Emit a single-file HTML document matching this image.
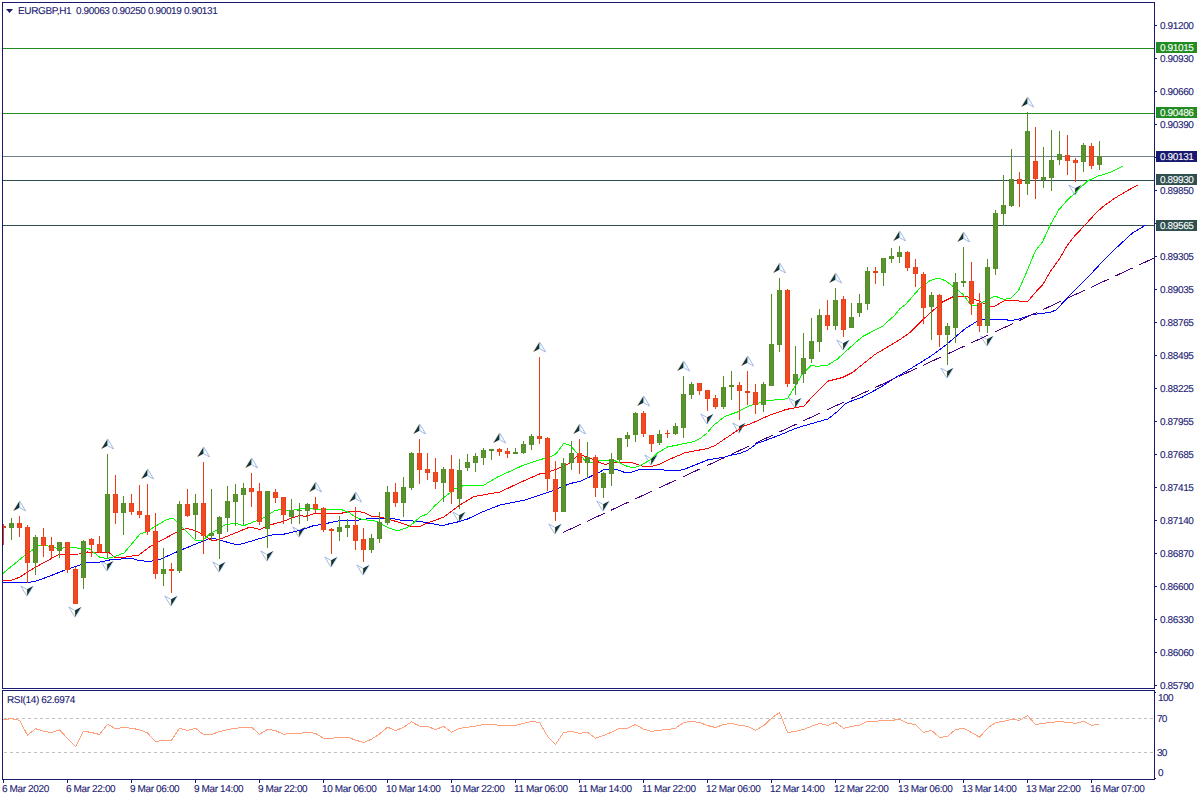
<!DOCTYPE html>
<html><head><meta charset="utf-8"><title>EURGBP,H1</title>
<style>html,body{margin:0;padding:0;background:#fff;width:1200px;height:800px;overflow:hidden}svg{display:block}text{white-space:pre}</style></head>
<body>
<svg width="1200" height="800" viewBox="0 0 1200 800" style="position:absolute;left:0;top:0">
<rect width="1200" height="800" fill="#fff"/>
<g shape-rendering="crispEdges">
<rect x="3" y="48" width="1151" height="1" fill="#228b22"/>
<rect x="3" y="113" width="1151" height="1" fill="#228b22"/>
<rect x="3" y="156" width="1151" height="1" fill="#708090"/>
<rect x="3" y="180" width="1151" height="1" fill="#2f4f4f"/>
<rect x="3" y="225" width="1151" height="1" fill="#2f4f4f"/>
</g>
<path d="M19.5,501 L13.3,511 L19.5,507.8 Z" fill="#16323a"/>
<path d="M19.2,500.8 L12.9,511" fill="none" stroke="#ffc766" stroke-width="0.5" opacity="0.8"/>
<path d="M19.8,502 L19.8,507.8" fill="none" stroke="#7fd0ff" stroke-width="0.8"/>
<path d="M19.7,501 L25.7,511 L19.9,507.8" fill="none" stroke="#94aedd" stroke-width="0.85"/>
<path d="M107.5,439 L101.3,449 L107.5,445.8 Z" fill="#16323a"/>
<path d="M107.2,438.8 L100.9,449" fill="none" stroke="#ffc766" stroke-width="0.5" opacity="0.8"/>
<path d="M107.8,440 L107.8,445.8" fill="none" stroke="#7fd0ff" stroke-width="0.8"/>
<path d="M107.7,439 L113.7,449 L107.9,445.8" fill="none" stroke="#94aedd" stroke-width="0.85"/>
<path d="M147.5,469 L141.3,479 L147.5,475.8 Z" fill="#16323a"/>
<path d="M147.2,468.8 L140.9,479" fill="none" stroke="#ffc766" stroke-width="0.5" opacity="0.8"/>
<path d="M147.8,470 L147.8,475.8" fill="none" stroke="#7fd0ff" stroke-width="0.8"/>
<path d="M147.7,469 L153.7,479 L147.9,475.8" fill="none" stroke="#94aedd" stroke-width="0.85"/>
<path d="M203.5,447 L197.3,457 L203.5,453.8 Z" fill="#16323a"/>
<path d="M203.2,446.8 L196.9,457" fill="none" stroke="#ffc766" stroke-width="0.5" opacity="0.8"/>
<path d="M203.8,448 L203.8,453.8" fill="none" stroke="#7fd0ff" stroke-width="0.8"/>
<path d="M203.7,447 L209.7,457 L203.9,453.8" fill="none" stroke="#94aedd" stroke-width="0.85"/>
<path d="M251.5,458 L245.3,468 L251.5,464.8 Z" fill="#16323a"/>
<path d="M251.2,457.8 L244.9,468" fill="none" stroke="#ffc766" stroke-width="0.5" opacity="0.8"/>
<path d="M251.8,459 L251.8,464.8" fill="none" stroke="#7fd0ff" stroke-width="0.8"/>
<path d="M251.7,458 L257.7,468 L251.9,464.8" fill="none" stroke="#94aedd" stroke-width="0.85"/>
<path d="M315.5,482 L309.3,492 L315.5,488.8 Z" fill="#16323a"/>
<path d="M315.2,481.8 L308.9,492" fill="none" stroke="#ffc766" stroke-width="0.5" opacity="0.8"/>
<path d="M315.8,483 L315.8,488.8" fill="none" stroke="#7fd0ff" stroke-width="0.8"/>
<path d="M315.7,482 L321.7,492 L315.9,488.8" fill="none" stroke="#94aedd" stroke-width="0.85"/>
<path d="M355.5,492 L349.3,502 L355.5,498.8 Z" fill="#16323a"/>
<path d="M355.2,491.8 L348.9,502" fill="none" stroke="#ffc766" stroke-width="0.5" opacity="0.8"/>
<path d="M355.8,493 L355.8,498.8" fill="none" stroke="#7fd0ff" stroke-width="0.8"/>
<path d="M355.7,492 L361.7,502 L355.9,498.8" fill="none" stroke="#94aedd" stroke-width="0.85"/>
<path d="M419.5,424 L413.3,434 L419.5,430.8 Z" fill="#16323a"/>
<path d="M419.2,423.8 L412.9,434" fill="none" stroke="#ffc766" stroke-width="0.5" opacity="0.8"/>
<path d="M419.8,425 L419.8,430.8" fill="none" stroke="#7fd0ff" stroke-width="0.8"/>
<path d="M419.7,424 L425.7,434 L419.9,430.8" fill="none" stroke="#94aedd" stroke-width="0.85"/>
<path d="M499.5,433 L493.3,443 L499.5,439.8 Z" fill="#16323a"/>
<path d="M499.2,432.8 L492.9,443" fill="none" stroke="#ffc766" stroke-width="0.5" opacity="0.8"/>
<path d="M499.8,434 L499.8,439.8" fill="none" stroke="#7fd0ff" stroke-width="0.8"/>
<path d="M499.7,433 L505.7,443 L499.9,439.8" fill="none" stroke="#94aedd" stroke-width="0.85"/>
<path d="M539.5,342 L533.3,352 L539.5,348.8 Z" fill="#16323a"/>
<path d="M539.2,341.8 L532.9,352" fill="none" stroke="#ffc766" stroke-width="0.5" opacity="0.8"/>
<path d="M539.8,343 L539.8,348.8" fill="none" stroke="#7fd0ff" stroke-width="0.8"/>
<path d="M539.7,342 L545.7,352 L539.9,348.8" fill="none" stroke="#94aedd" stroke-width="0.85"/>
<path d="M579.5,424 L573.3,434 L579.5,430.8 Z" fill="#16323a"/>
<path d="M579.2,423.8 L572.9,434" fill="none" stroke="#ffc766" stroke-width="0.5" opacity="0.8"/>
<path d="M579.8,425 L579.8,430.8" fill="none" stroke="#7fd0ff" stroke-width="0.8"/>
<path d="M579.7,424 L585.7,434 L579.9,430.8" fill="none" stroke="#94aedd" stroke-width="0.85"/>
<path d="M643.5,396 L637.3,406 L643.5,402.8 Z" fill="#16323a"/>
<path d="M643.2,395.8 L636.9,406" fill="none" stroke="#ffc766" stroke-width="0.5" opacity="0.8"/>
<path d="M643.8,397 L643.8,402.8" fill="none" stroke="#7fd0ff" stroke-width="0.8"/>
<path d="M643.7,396 L649.7,406 L643.9,402.8" fill="none" stroke="#94aedd" stroke-width="0.85"/>
<path d="M683.5,361 L677.3,371 L683.5,367.8 Z" fill="#16323a"/>
<path d="M683.2,360.8 L676.9,371" fill="none" stroke="#ffc766" stroke-width="0.5" opacity="0.8"/>
<path d="M683.8,362 L683.8,367.8" fill="none" stroke="#7fd0ff" stroke-width="0.8"/>
<path d="M683.7,361 L689.7,371 L683.9,367.8" fill="none" stroke="#94aedd" stroke-width="0.85"/>
<path d="M747.5,356 L741.3,366 L747.5,362.8 Z" fill="#16323a"/>
<path d="M747.2,355.8 L740.9,366" fill="none" stroke="#ffc766" stroke-width="0.5" opacity="0.8"/>
<path d="M747.8,357 L747.8,362.8" fill="none" stroke="#7fd0ff" stroke-width="0.8"/>
<path d="M747.7,356 L753.7,366 L747.9,362.8" fill="none" stroke="#94aedd" stroke-width="0.85"/>
<path d="M779.5,263 L773.3,273 L779.5,269.8 Z" fill="#16323a"/>
<path d="M779.2,262.8 L772.9,273" fill="none" stroke="#ffc766" stroke-width="0.5" opacity="0.8"/>
<path d="M779.8,264 L779.8,269.8" fill="none" stroke="#7fd0ff" stroke-width="0.8"/>
<path d="M779.7,263 L785.7,273 L779.9,269.8" fill="none" stroke="#94aedd" stroke-width="0.85"/>
<path d="M835.5,273 L829.3,283 L835.5,279.8 Z" fill="#16323a"/>
<path d="M835.2,272.8 L828.9,283" fill="none" stroke="#ffc766" stroke-width="0.5" opacity="0.8"/>
<path d="M835.8,274 L835.8,279.8" fill="none" stroke="#7fd0ff" stroke-width="0.8"/>
<path d="M835.7,273 L841.7,283 L835.9,279.8" fill="none" stroke="#94aedd" stroke-width="0.85"/>
<path d="M899.5,231 L893.3,241 L899.5,237.8 Z" fill="#16323a"/>
<path d="M899.2,230.8 L892.9,241" fill="none" stroke="#ffc766" stroke-width="0.5" opacity="0.8"/>
<path d="M899.8,232 L899.8,237.8" fill="none" stroke="#7fd0ff" stroke-width="0.8"/>
<path d="M899.7,231 L905.7,241 L899.9,237.8" fill="none" stroke="#94aedd" stroke-width="0.85"/>
<path d="M963.5,232 L957.3,242 L963.5,238.8 Z" fill="#16323a"/>
<path d="M963.2,231.8 L956.9,242" fill="none" stroke="#ffc766" stroke-width="0.5" opacity="0.8"/>
<path d="M963.8,233 L963.8,238.8" fill="none" stroke="#7fd0ff" stroke-width="0.8"/>
<path d="M963.7,232 L969.7,242 L963.9,238.8" fill="none" stroke="#94aedd" stroke-width="0.85"/>
<path d="M1027.5,97 L1021.3,107 L1027.5,103.8 Z" fill="#16323a"/>
<path d="M1027.2,96.8 L1020.9,107" fill="none" stroke="#ffc766" stroke-width="0.5" opacity="0.8"/>
<path d="M1027.8,98 L1027.8,103.8" fill="none" stroke="#7fd0ff" stroke-width="0.8"/>
<path d="M1027.7,97 L1033.7,107 L1027.9,103.8" fill="none" stroke="#94aedd" stroke-width="0.85"/>
<path d="M27,596 L33.2,586 L27,589.2 Z" fill="#16323a"/>
<path d="M27.3,596.2 L33.6,586" fill="none" stroke="#5ab4ff" stroke-width="0.5" opacity="0.8"/>
<path d="M26.7,595 L26.7,589.2" fill="none" stroke="#ffe9a0" stroke-width="0.8"/>
<path d="M26.8,596 L20.8,586 L26.6,589.2" fill="none" stroke="#94aedd" stroke-width="0.85"/>
<path d="M75,617 L81.2,607 L75,610.2 Z" fill="#16323a"/>
<path d="M75.3,617.2 L81.6,607" fill="none" stroke="#5ab4ff" stroke-width="0.5" opacity="0.8"/>
<path d="M74.7,616 L74.7,610.2" fill="none" stroke="#ffe9a0" stroke-width="0.8"/>
<path d="M74.8,617 L68.8,607 L74.6,610.2" fill="none" stroke="#94aedd" stroke-width="0.85"/>
<path d="M107,571 L113.2,561 L107,564.2 Z" fill="#16323a"/>
<path d="M107.3,571.2 L113.6,561" fill="none" stroke="#5ab4ff" stroke-width="0.5" opacity="0.8"/>
<path d="M106.7,570 L106.7,564.2" fill="none" stroke="#ffe9a0" stroke-width="0.8"/>
<path d="M106.8,571 L100.8,561 L106.6,564.2" fill="none" stroke="#94aedd" stroke-width="0.85"/>
<path d="M171,606 L177.2,596 L171,599.2 Z" fill="#16323a"/>
<path d="M171.3,606.2 L177.6,596" fill="none" stroke="#5ab4ff" stroke-width="0.5" opacity="0.8"/>
<path d="M170.7,605 L170.7,599.2" fill="none" stroke="#ffe9a0" stroke-width="0.8"/>
<path d="M170.8,606 L164.8,596 L170.6,599.2" fill="none" stroke="#94aedd" stroke-width="0.85"/>
<path d="M219,572 L225.2,562 L219,565.2 Z" fill="#16323a"/>
<path d="M219.3,572.2 L225.6,562" fill="none" stroke="#5ab4ff" stroke-width="0.5" opacity="0.8"/>
<path d="M218.7,571 L218.7,565.2" fill="none" stroke="#ffe9a0" stroke-width="0.8"/>
<path d="M218.8,572 L212.8,562 L218.6,565.2" fill="none" stroke="#94aedd" stroke-width="0.85"/>
<path d="M267,561 L273.2,551 L267,554.2 Z" fill="#16323a"/>
<path d="M267.3,561.2 L273.6,551" fill="none" stroke="#5ab4ff" stroke-width="0.5" opacity="0.8"/>
<path d="M266.7,560 L266.7,554.2" fill="none" stroke="#ffe9a0" stroke-width="0.8"/>
<path d="M266.8,561 L260.8,551 L266.6,554.2" fill="none" stroke="#94aedd" stroke-width="0.85"/>
<path d="M299,537 L305.2,527 L299,530.2 Z" fill="#16323a"/>
<path d="M299.3,537.2 L305.6,527" fill="none" stroke="#5ab4ff" stroke-width="0.5" opacity="0.8"/>
<path d="M298.7,536 L298.7,530.2" fill="none" stroke="#ffe9a0" stroke-width="0.8"/>
<path d="M298.8,537 L292.8,527 L298.6,530.2" fill="none" stroke="#94aedd" stroke-width="0.85"/>
<path d="M331,567 L337.2,557 L331,560.2 Z" fill="#16323a"/>
<path d="M331.3,567.2 L337.6,557" fill="none" stroke="#5ab4ff" stroke-width="0.5" opacity="0.8"/>
<path d="M330.7,566 L330.7,560.2" fill="none" stroke="#ffe9a0" stroke-width="0.8"/>
<path d="M330.8,567 L324.8,557 L330.6,560.2" fill="none" stroke="#94aedd" stroke-width="0.85"/>
<path d="M363,575 L369.2,565 L363,568.2 Z" fill="#16323a"/>
<path d="M363.3,575.2 L369.6,565" fill="none" stroke="#5ab4ff" stroke-width="0.5" opacity="0.8"/>
<path d="M362.7,574 L362.7,568.2" fill="none" stroke="#ffe9a0" stroke-width="0.8"/>
<path d="M362.8,575 L356.8,565 L362.6,568.2" fill="none" stroke="#94aedd" stroke-width="0.85"/>
<path d="M459,522 L465.2,512 L459,515.2 Z" fill="#16323a"/>
<path d="M459.3,522.2 L465.6,512" fill="none" stroke="#5ab4ff" stroke-width="0.5" opacity="0.8"/>
<path d="M458.7,521 L458.7,515.2" fill="none" stroke="#ffe9a0" stroke-width="0.8"/>
<path d="M458.8,522 L452.8,512 L458.6,515.2" fill="none" stroke="#94aedd" stroke-width="0.85"/>
<path d="M555,534 L561.2,524 L555,527.2 Z" fill="#16323a"/>
<path d="M555.3,534.2 L561.6,524" fill="none" stroke="#5ab4ff" stroke-width="0.5" opacity="0.8"/>
<path d="M554.7,533 L554.7,527.2" fill="none" stroke="#ffe9a0" stroke-width="0.8"/>
<path d="M554.8,534 L548.8,524 L554.6,527.2" fill="none" stroke="#94aedd" stroke-width="0.85"/>
<path d="M603,511 L609.2,501 L603,504.2 Z" fill="#16323a"/>
<path d="M603.3,511.2 L609.6,501" fill="none" stroke="#5ab4ff" stroke-width="0.5" opacity="0.8"/>
<path d="M602.7,510 L602.7,504.2" fill="none" stroke="#ffe9a0" stroke-width="0.8"/>
<path d="M602.8,511 L596.8,501 L602.6,504.2" fill="none" stroke="#94aedd" stroke-width="0.85"/>
<path d="M651,465 L657.2,455 L651,458.2 Z" fill="#16323a"/>
<path d="M651.3,465.2 L657.6,455" fill="none" stroke="#5ab4ff" stroke-width="0.5" opacity="0.8"/>
<path d="M650.7,464 L650.7,458.2" fill="none" stroke="#ffe9a0" stroke-width="0.8"/>
<path d="M650.8,465 L644.8,455 L650.6,458.2" fill="none" stroke="#94aedd" stroke-width="0.85"/>
<path d="M707,424 L713.2,414 L707,417.2 Z" fill="#16323a"/>
<path d="M707.3,424.2 L713.6,414" fill="none" stroke="#5ab4ff" stroke-width="0.5" opacity="0.8"/>
<path d="M706.7,423 L706.7,417.2" fill="none" stroke="#ffe9a0" stroke-width="0.8"/>
<path d="M706.8,424 L700.8,414 L706.6,417.2" fill="none" stroke="#94aedd" stroke-width="0.85"/>
<path d="M739,433 L745.2,423 L739,426.2 Z" fill="#16323a"/>
<path d="M739.3,433.2 L745.6,423" fill="none" stroke="#5ab4ff" stroke-width="0.5" opacity="0.8"/>
<path d="M738.7,432 L738.7,426.2" fill="none" stroke="#ffe9a0" stroke-width="0.8"/>
<path d="M738.8,433 L732.8,423 L738.6,426.2" fill="none" stroke="#94aedd" stroke-width="0.85"/>
<path d="M795,408 L801.2,398 L795,401.2 Z" fill="#16323a"/>
<path d="M795.3,408.2 L801.6,398" fill="none" stroke="#5ab4ff" stroke-width="0.5" opacity="0.8"/>
<path d="M794.7,407 L794.7,401.2" fill="none" stroke="#ffe9a0" stroke-width="0.8"/>
<path d="M794.8,408 L788.8,398 L794.6,401.2" fill="none" stroke="#94aedd" stroke-width="0.85"/>
<path d="M843,350 L849.2,340 L843,343.2 Z" fill="#16323a"/>
<path d="M843.3,350.2 L849.6,340" fill="none" stroke="#5ab4ff" stroke-width="0.5" opacity="0.8"/>
<path d="M842.7,349 L842.7,343.2" fill="none" stroke="#ffe9a0" stroke-width="0.8"/>
<path d="M842.8,350 L836.8,340 L842.6,343.2" fill="none" stroke="#94aedd" stroke-width="0.85"/>
<path d="M947,378 L953.2,368 L947,371.2 Z" fill="#16323a"/>
<path d="M947.3,378.2 L953.6,368" fill="none" stroke="#5ab4ff" stroke-width="0.5" opacity="0.8"/>
<path d="M946.7,377 L946.7,371.2" fill="none" stroke="#ffe9a0" stroke-width="0.8"/>
<path d="M946.8,378 L940.8,368 L946.6,371.2" fill="none" stroke="#94aedd" stroke-width="0.85"/>
<path d="M987,346 L993.2,336 L987,339.2 Z" fill="#16323a"/>
<path d="M987.3,346.2 L993.6,336" fill="none" stroke="#5ab4ff" stroke-width="0.5" opacity="0.8"/>
<path d="M986.7,345 L986.7,339.2" fill="none" stroke="#ffe9a0" stroke-width="0.8"/>
<path d="M986.8,346 L980.8,336 L986.6,339.2" fill="none" stroke="#94aedd" stroke-width="0.85"/>
<path d="M1075,195 L1081.2,185 L1075,188.2 Z" fill="#16323a"/>
<path d="M1075.3,195.2 L1081.6,185" fill="none" stroke="#5ab4ff" stroke-width="0.5" opacity="0.8"/>
<path d="M1074.7,194 L1074.7,188.2" fill="none" stroke="#ffe9a0" stroke-width="0.8"/>
<path d="M1074.8,195 L1068.8,185 L1074.6,188.2" fill="none" stroke="#94aedd" stroke-width="0.85"/>
<polyline points="2.50,582.50 29.00,582.50 37.50,580.60 50.00,576.00 65.00,570.00 87.50,562.50 100.00,562.00 112.50,559.40 132.50,558.50 139.00,560.60 150.00,561.50 160.00,559.40 181.00,550.00 209.00,538.75 214.00,538.50 235.00,544.40 240.00,544.40 245.00,543.00 272.50,534.75 282.50,534.50 300.00,530.30 312.50,526.00 325.00,523.75 342.50,520.00 359.00,520.00 370.00,518.50 392.50,518.50 400.00,520.00 420.00,521.50 432.50,523.75 442.50,525.60 450.00,523.60 457.50,522.00 467.50,519.00 481.00,512.50 500.00,505.00 525.00,500.00 550.00,491.75 570.00,483.60 581.00,481.00 600.00,472.00 604.00,469.40 616.00,469.40 625.00,472.50 630.00,472.50 640.00,469.40 662.50,469.40 665.00,470.60 679.00,470.60 685.00,469.00 707.50,460.00 725.00,457.00 730.00,455.50 740.00,453.50 748.00,450.00 757.00,443.50 780.00,435.00 796.00,428.20 810.00,424.00 828.00,419.00 838.00,411.00 845.00,404.00 847.50,402.50 862.50,397.00 881.00,387.00 892.50,379.40 900.00,375.00 915.00,366.00 931.00,356.00 946.00,345.00 965.00,328.75 976.00,322.00 982.50,319.50 1005.00,319.50 1010.00,320.50 1017.50,319.50 1032.50,314.60 1050.00,312.40 1056.00,310.00 1073.75,291.25 1090.00,275.00 1105.00,258.75 1120.00,244.40 1132.50,233.00 1145.50,225.20" fill="none" stroke="#0000ff" stroke-width="1" shape-rendering="crispEdges" />
<polyline points="2.50,581.00 12.50,580.00 20.00,577.00 34.00,568.00 59.00,554.40 79.00,554.00 87.50,552.00 109.00,552.50 115.00,557.50 126.00,557.00 139.00,555.00 150.00,546.50 176.00,532.50 186.00,528.50 192.00,529.40 200.00,533.00 211.00,540.00 215.00,540.50 221.00,538.75 250.00,527.00 260.00,529.40 270.00,525.00 282.50,521.50 300.00,515.20 305.00,516.50 316.00,513.00 342.50,513.00 350.00,511.50 359.00,511.50 365.00,513.00 371.00,516.00 380.00,517.00 387.50,518.75 400.00,522.75 410.00,526.00 420.00,526.50 425.00,524.00 437.50,519.40 444.00,517.00 450.00,512.50 460.00,505.00 474.00,496.50 500.00,492.00 520.00,482.50 540.00,473.75 545.00,473.00 557.50,468.75 570.00,463.00 577.50,455.60 582.50,455.60 590.00,458.00 600.00,462.75 605.00,464.40 615.00,462.25 631.00,462.25 642.50,466.25 652.50,466.25 660.00,464.00 672.50,458.00 685.00,452.75 707.50,448.50 715.00,445.60 725.00,438.75 730.00,435.50 743.00,426.50 750.00,424.00 770.00,415.00 786.00,409.50 804.00,406.00 815.00,393.75 827.50,381.25 842.50,377.50 852.50,372.50 875.00,354.40 887.50,347.00 900.00,339.60 910.00,332.50 922.50,320.00 942.50,302.00 952.50,297.00 965.00,296.00 975.00,299.40 990.00,306.00 995.00,306.00 1003.75,301.00 1016.00,300.00 1020.00,301.50 1027.50,301.50 1030.00,298.75 1037.50,290.00 1042.50,285.00 1050.00,272.00 1060.00,258.00 1067.50,245.00 1073.75,237.00 1085.00,225.00 1096.00,213.00 1102.50,207.00 1115.00,198.00 1127.50,190.60 1138.00,185.00" fill="none" stroke="#ff0000" stroke-width="1" shape-rendering="crispEdges" />
<polyline points="2.50,573.75 23.75,556.25 38.75,545.60 46.00,545.50 60.00,549.00 64.00,547.50 89.00,548.50 100.00,557.50 107.50,558.50 115.00,556.50 124.00,553.00 135.00,540.00 140.00,534.00 146.00,532.00 150.00,529.60 166.00,520.00 171.00,518.50 174.00,519.00 182.50,527.75 196.00,541.00 202.50,540.60 210.00,533.75 215.00,531.00 225.00,525.00 230.00,524.00 236.00,523.00 243.00,526.00 262.50,518.50 275.00,510.60 281.00,509.40 291.00,510.60 300.00,508.75 312.50,509.00 325.00,510.00 336.00,509.40 342.50,510.00 350.00,513.00 355.00,517.00 362.50,519.40 375.00,521.00 380.00,523.00 387.50,527.50 395.00,530.00 400.00,530.00 407.50,527.50 412.50,523.75 420.00,517.00 427.50,513.75 435.00,505.60 444.00,497.50 450.00,493.00 454.00,489.00 462.50,486.00 484.00,485.00 497.50,477.00 522.50,465.60 541.00,459.40 550.00,457.00 556.00,453.75 564.00,443.00 571.00,446.00 577.50,453.75 582.50,457.50 586.00,462.00 591.00,462.50 600.00,460.25 614.00,460.25 625.00,465.60 634.00,468.00 642.50,464.40 650.00,460.00 657.50,453.00 667.50,447.00 692.50,442.00 700.00,438.75 707.50,432.50 712.50,426.25 725.00,416.25 737.50,412.00 750.00,405.60 767.50,400.60 787.50,398.75 802.50,373.75 811.00,365.60 817.50,366.25 827.50,365.25 837.50,359.00 850.00,347.50 862.50,336.60 882.50,326.25 895.00,315.00 900.00,308.50 905.00,305.00 920.00,288.00 930.00,280.60 938.75,278.00 946.00,281.00 952.50,286.00 962.50,294.00 971.00,305.00 977.50,305.00 985.00,301.00 995.00,296.00 1003.75,299.40 1011.00,298.00 1018.75,290.00 1027.50,270.00 1032.50,257.50 1036.00,250.00 1042.50,242.00 1050.00,225.30 1058.75,210.00 1067.50,200.00 1077.50,190.60 1087.50,181.00 1097.50,176.25 1110.00,172.50 1123.00,166.00" fill="none" stroke="#00ff00" stroke-width="1" shape-rendering="crispEdges" />
<line x1="563.0" y1="532.5" x2="1154.0" y2="258.04" stroke="#4b0082" stroke-width="1" shape-rendering="crispEdges" stroke-dasharray="19.30 7.17"/>
<g shape-rendering="crispEdges">
<rect x="3" y="524" width="1" height="21" fill="#ed3d15"/>
<rect x="3" y="526" width="3" height="2" fill="#ed3d15"/>
<rect x="11" y="518" width="1" height="22" fill="#528c24"/>
<rect x="9" y="523" width="5" height="5" fill="#528c24"/>
<rect x="10" y="523" width="3" height="5" fill="#5c9230"/>
<rect x="19" y="516" width="1" height="21" fill="#ed3d15"/>
<rect x="17" y="523" width="5" height="5" fill="#ed3d15"/>
<rect x="18" y="523" width="3" height="5" fill="#f04a25"/>
<rect x="27" y="525" width="1" height="58" fill="#ed3d15"/>
<rect x="25" y="527" width="5" height="36" fill="#ed3d15"/>
<rect x="26" y="527" width="3" height="36" fill="#f04a25"/>
<rect x="35" y="535" width="1" height="40" fill="#528c24"/>
<rect x="33" y="537" width="5" height="26" fill="#528c24"/>
<rect x="34" y="537" width="3" height="26" fill="#5c9230"/>
<rect x="43" y="528" width="1" height="29" fill="#ed3d15"/>
<rect x="41" y="537" width="5" height="9" fill="#ed3d15"/>
<rect x="42" y="537" width="3" height="9" fill="#f04a25"/>
<rect x="51" y="537" width="1" height="21" fill="#ed3d15"/>
<rect x="49" y="545" width="5" height="6" fill="#ed3d15"/>
<rect x="50" y="545" width="3" height="6" fill="#f04a25"/>
<rect x="59" y="542" width="1" height="16" fill="#528c24"/>
<rect x="57" y="542" width="5" height="9" fill="#528c24"/>
<rect x="58" y="542" width="3" height="9" fill="#5c9230"/>
<rect x="67" y="542" width="1" height="31" fill="#ed3d15"/>
<rect x="65" y="542" width="5" height="28" fill="#ed3d15"/>
<rect x="66" y="542" width="3" height="28" fill="#f04a25"/>
<rect x="75" y="567" width="1" height="37" fill="#ed3d15"/>
<rect x="73" y="569" width="5" height="35" fill="#ed3d15"/>
<rect x="74" y="569" width="3" height="35" fill="#f04a25"/>
<rect x="83" y="540" width="1" height="49" fill="#528c24"/>
<rect x="81" y="541" width="5" height="37" fill="#528c24"/>
<rect x="82" y="541" width="3" height="37" fill="#5c9230"/>
<rect x="91" y="538" width="1" height="19" fill="#ed3d15"/>
<rect x="89" y="539" width="5" height="6" fill="#ed3d15"/>
<rect x="90" y="539" width="3" height="6" fill="#f04a25"/>
<rect x="99" y="536" width="1" height="17" fill="#ed3d15"/>
<rect x="97" y="544" width="5" height="8" fill="#ed3d15"/>
<rect x="98" y="544" width="3" height="8" fill="#f04a25"/>
<rect x="107" y="454" width="1" height="104" fill="#528c24"/>
<rect x="105" y="494" width="5" height="58" fill="#528c24"/>
<rect x="106" y="494" width="3" height="58" fill="#5c9230"/>
<rect x="115" y="475" width="1" height="49" fill="#ed3d15"/>
<rect x="113" y="494" width="5" height="19" fill="#ed3d15"/>
<rect x="114" y="494" width="3" height="19" fill="#f04a25"/>
<rect x="123" y="496" width="1" height="39" fill="#528c24"/>
<rect x="121" y="503" width="5" height="10" fill="#528c24"/>
<rect x="122" y="503" width="3" height="10" fill="#5c9230"/>
<rect x="131" y="494" width="1" height="21" fill="#ed3d15"/>
<rect x="129" y="503" width="5" height="9" fill="#ed3d15"/>
<rect x="130" y="503" width="3" height="9" fill="#f04a25"/>
<rect x="139" y="485" width="1" height="33" fill="#ed3d15"/>
<rect x="137" y="511" width="5" height="4" fill="#ed3d15"/>
<rect x="138" y="511" width="3" height="4" fill="#f04a25"/>
<rect x="147" y="484" width="1" height="51" fill="#ed3d15"/>
<rect x="145" y="515" width="5" height="17" fill="#ed3d15"/>
<rect x="146" y="515" width="3" height="17" fill="#f04a25"/>
<rect x="155" y="513" width="1" height="66" fill="#ed3d15"/>
<rect x="153" y="531" width="5" height="43" fill="#ed3d15"/>
<rect x="154" y="531" width="3" height="43" fill="#f04a25"/>
<rect x="163" y="548" width="1" height="38" fill="#528c24"/>
<rect x="161" y="569" width="5" height="5" fill="#528c24"/>
<rect x="162" y="569" width="3" height="5" fill="#5c9230"/>
<rect x="171" y="563" width="1" height="30" fill="#ed3d15"/>
<rect x="169" y="569" width="5" height="2" fill="#ed3d15"/>
<rect x="179" y="501" width="1" height="72" fill="#528c24"/>
<rect x="177" y="504" width="5" height="67" fill="#528c24"/>
<rect x="178" y="504" width="3" height="67" fill="#5c9230"/>
<rect x="187" y="489" width="1" height="28" fill="#ed3d15"/>
<rect x="185" y="504" width="5" height="12" fill="#ed3d15"/>
<rect x="186" y="504" width="3" height="12" fill="#f04a25"/>
<rect x="195" y="494" width="1" height="45" fill="#528c24"/>
<rect x="193" y="503" width="5" height="12" fill="#528c24"/>
<rect x="194" y="503" width="3" height="12" fill="#5c9230"/>
<rect x="203" y="462" width="1" height="92" fill="#ed3d15"/>
<rect x="201" y="503" width="5" height="33" fill="#ed3d15"/>
<rect x="202" y="503" width="3" height="33" fill="#f04a25"/>
<rect x="211" y="489" width="1" height="51" fill="#528c24"/>
<rect x="209" y="533" width="5" height="3" fill="#528c24"/>
<rect x="210" y="533" width="3" height="3" fill="#5c9230"/>
<rect x="219" y="516" width="1" height="43" fill="#528c24"/>
<rect x="217" y="517" width="5" height="17" fill="#528c24"/>
<rect x="218" y="517" width="3" height="17" fill="#5c9230"/>
<rect x="227" y="486" width="1" height="46" fill="#528c24"/>
<rect x="225" y="501" width="5" height="17" fill="#528c24"/>
<rect x="226" y="501" width="3" height="17" fill="#5c9230"/>
<rect x="235" y="484" width="1" height="42" fill="#528c24"/>
<rect x="233" y="494" width="5" height="8" fill="#528c24"/>
<rect x="234" y="494" width="3" height="8" fill="#5c9230"/>
<rect x="243" y="483" width="1" height="42" fill="#528c24"/>
<rect x="241" y="488" width="5" height="7" fill="#528c24"/>
<rect x="242" y="488" width="3" height="7" fill="#5c9230"/>
<rect x="251" y="473" width="1" height="34" fill="#ed3d15"/>
<rect x="249" y="488" width="5" height="4" fill="#ed3d15"/>
<rect x="250" y="488" width="3" height="4" fill="#f04a25"/>
<rect x="259" y="483" width="1" height="42" fill="#ed3d15"/>
<rect x="257" y="491" width="5" height="31" fill="#ed3d15"/>
<rect x="258" y="491" width="3" height="31" fill="#f04a25"/>
<rect x="267" y="491" width="1" height="57" fill="#528c24"/>
<rect x="265" y="491" width="5" height="38" fill="#528c24"/>
<rect x="266" y="491" width="3" height="38" fill="#5c9230"/>
<rect x="275" y="489" width="1" height="14" fill="#ed3d15"/>
<rect x="273" y="492" width="5" height="6" fill="#ed3d15"/>
<rect x="274" y="492" width="3" height="6" fill="#f04a25"/>
<rect x="283" y="497" width="1" height="27" fill="#ed3d15"/>
<rect x="281" y="497" width="5" height="18" fill="#ed3d15"/>
<rect x="282" y="497" width="3" height="18" fill="#f04a25"/>
<rect x="291" y="499" width="1" height="25" fill="#528c24"/>
<rect x="289" y="510" width="5" height="7" fill="#528c24"/>
<rect x="290" y="510" width="3" height="7" fill="#5c9230"/>
<rect x="299" y="503" width="1" height="21" fill="#528c24"/>
<rect x="297" y="510" width="5" height="1" fill="#528c24"/>
<rect x="307" y="503" width="1" height="18" fill="#528c24"/>
<rect x="305" y="504" width="5" height="7" fill="#528c24"/>
<rect x="306" y="504" width="3" height="7" fill="#5c9230"/>
<rect x="315" y="497" width="1" height="16" fill="#ed3d15"/>
<rect x="313" y="504" width="5" height="5" fill="#ed3d15"/>
<rect x="314" y="504" width="3" height="5" fill="#f04a25"/>
<rect x="323" y="507" width="1" height="25" fill="#ed3d15"/>
<rect x="321" y="508" width="5" height="22" fill="#ed3d15"/>
<rect x="322" y="508" width="3" height="22" fill="#f04a25"/>
<rect x="331" y="528" width="1" height="26" fill="#ed3d15"/>
<rect x="329" y="529" width="5" height="2" fill="#ed3d15"/>
<rect x="339" y="516" width="1" height="25" fill="#528c24"/>
<rect x="337" y="527" width="5" height="5" fill="#528c24"/>
<rect x="338" y="527" width="3" height="5" fill="#5c9230"/>
<rect x="347" y="519" width="1" height="18" fill="#528c24"/>
<rect x="345" y="525" width="5" height="3" fill="#528c24"/>
<rect x="346" y="525" width="3" height="3" fill="#5c9230"/>
<rect x="355" y="507" width="1" height="43" fill="#ed3d15"/>
<rect x="353" y="525" width="5" height="16" fill="#ed3d15"/>
<rect x="354" y="525" width="3" height="16" fill="#f04a25"/>
<rect x="363" y="528" width="1" height="34" fill="#ed3d15"/>
<rect x="361" y="539" width="5" height="11" fill="#ed3d15"/>
<rect x="362" y="539" width="3" height="11" fill="#f04a25"/>
<rect x="371" y="534" width="1" height="19" fill="#528c24"/>
<rect x="369" y="538" width="5" height="12" fill="#528c24"/>
<rect x="370" y="538" width="3" height="12" fill="#5c9230"/>
<rect x="379" y="512" width="1" height="31" fill="#528c24"/>
<rect x="377" y="522" width="5" height="17" fill="#528c24"/>
<rect x="378" y="522" width="3" height="17" fill="#5c9230"/>
<rect x="387" y="486" width="1" height="39" fill="#528c24"/>
<rect x="385" y="492" width="5" height="31" fill="#528c24"/>
<rect x="386" y="492" width="3" height="31" fill="#5c9230"/>
<rect x="395" y="483" width="1" height="24" fill="#ed3d15"/>
<rect x="393" y="492" width="5" height="11" fill="#ed3d15"/>
<rect x="394" y="492" width="3" height="11" fill="#f04a25"/>
<rect x="403" y="477" width="1" height="40" fill="#528c24"/>
<rect x="401" y="487" width="5" height="16" fill="#528c24"/>
<rect x="402" y="487" width="3" height="16" fill="#5c9230"/>
<rect x="411" y="452" width="1" height="38" fill="#528c24"/>
<rect x="409" y="453" width="5" height="35" fill="#528c24"/>
<rect x="410" y="453" width="3" height="35" fill="#5c9230"/>
<rect x="419" y="439" width="1" height="45" fill="#ed3d15"/>
<rect x="417" y="453" width="5" height="17" fill="#ed3d15"/>
<rect x="418" y="453" width="3" height="17" fill="#f04a25"/>
<rect x="427" y="453" width="1" height="27" fill="#ed3d15"/>
<rect x="425" y="469" width="5" height="4" fill="#ed3d15"/>
<rect x="426" y="469" width="3" height="4" fill="#f04a25"/>
<rect x="435" y="458" width="1" height="31" fill="#ed3d15"/>
<rect x="433" y="472" width="5" height="10" fill="#ed3d15"/>
<rect x="434" y="472" width="3" height="10" fill="#f04a25"/>
<rect x="443" y="467" width="1" height="35" fill="#528c24"/>
<rect x="441" y="469" width="5" height="14" fill="#528c24"/>
<rect x="442" y="469" width="3" height="14" fill="#5c9230"/>
<rect x="451" y="455" width="1" height="49" fill="#ed3d15"/>
<rect x="449" y="469" width="5" height="23" fill="#ed3d15"/>
<rect x="450" y="469" width="3" height="23" fill="#f04a25"/>
<rect x="459" y="459" width="1" height="50" fill="#528c24"/>
<rect x="457" y="470" width="5" height="29" fill="#528c24"/>
<rect x="458" y="470" width="3" height="29" fill="#5c9230"/>
<rect x="467" y="454" width="1" height="17" fill="#528c24"/>
<rect x="465" y="462" width="5" height="6" fill="#528c24"/>
<rect x="466" y="462" width="3" height="6" fill="#5c9230"/>
<rect x="475" y="453" width="1" height="19" fill="#528c24"/>
<rect x="473" y="456" width="5" height="7" fill="#528c24"/>
<rect x="474" y="456" width="3" height="7" fill="#5c9230"/>
<rect x="483" y="448" width="1" height="17" fill="#528c24"/>
<rect x="481" y="450" width="5" height="8" fill="#528c24"/>
<rect x="482" y="450" width="3" height="8" fill="#5c9230"/>
<rect x="491" y="449" width="1" height="11" fill="#528c24"/>
<rect x="489" y="449" width="5" height="2" fill="#528c24"/>
<rect x="499" y="448" width="1" height="8" fill="#ed3d15"/>
<rect x="497" y="449" width="5" height="3" fill="#ed3d15"/>
<rect x="498" y="449" width="3" height="3" fill="#f04a25"/>
<rect x="507" y="448" width="1" height="10" fill="#ed3d15"/>
<rect x="505" y="451" width="5" height="3" fill="#ed3d15"/>
<rect x="506" y="451" width="3" height="3" fill="#f04a25"/>
<rect x="515" y="448" width="1" height="6" fill="#528c24"/>
<rect x="513" y="452" width="5" height="2" fill="#528c24"/>
<rect x="523" y="441" width="1" height="13" fill="#528c24"/>
<rect x="521" y="444" width="5" height="9" fill="#528c24"/>
<rect x="522" y="444" width="3" height="9" fill="#5c9230"/>
<rect x="531" y="434" width="1" height="16" fill="#528c24"/>
<rect x="529" y="436" width="5" height="9" fill="#528c24"/>
<rect x="530" y="436" width="3" height="9" fill="#5c9230"/>
<rect x="539" y="357" width="1" height="87" fill="#ed3d15"/>
<rect x="537" y="436" width="5" height="3" fill="#ed3d15"/>
<rect x="538" y="436" width="3" height="3" fill="#f04a25"/>
<rect x="547" y="437" width="1" height="54" fill="#ed3d15"/>
<rect x="545" y="438" width="5" height="41" fill="#ed3d15"/>
<rect x="546" y="438" width="3" height="41" fill="#f04a25"/>
<rect x="555" y="461" width="1" height="60" fill="#ed3d15"/>
<rect x="553" y="479" width="5" height="33" fill="#ed3d15"/>
<rect x="554" y="479" width="3" height="33" fill="#f04a25"/>
<rect x="563" y="458" width="1" height="54" fill="#528c24"/>
<rect x="561" y="463" width="5" height="49" fill="#528c24"/>
<rect x="562" y="463" width="3" height="49" fill="#5c9230"/>
<rect x="571" y="441" width="1" height="29" fill="#528c24"/>
<rect x="569" y="453" width="5" height="10" fill="#528c24"/>
<rect x="570" y="453" width="3" height="10" fill="#5c9230"/>
<rect x="579" y="439" width="1" height="35" fill="#ed3d15"/>
<rect x="577" y="453" width="5" height="10" fill="#ed3d15"/>
<rect x="578" y="453" width="3" height="10" fill="#f04a25"/>
<rect x="587" y="442" width="1" height="36" fill="#528c24"/>
<rect x="585" y="457" width="5" height="6" fill="#528c24"/>
<rect x="586" y="457" width="3" height="6" fill="#5c9230"/>
<rect x="595" y="455" width="1" height="42" fill="#ed3d15"/>
<rect x="593" y="457" width="5" height="31" fill="#ed3d15"/>
<rect x="594" y="457" width="3" height="31" fill="#f04a25"/>
<rect x="603" y="472" width="1" height="26" fill="#528c24"/>
<rect x="601" y="473" width="5" height="15" fill="#528c24"/>
<rect x="602" y="473" width="3" height="15" fill="#5c9230"/>
<rect x="611" y="453" width="1" height="33" fill="#528c24"/>
<rect x="609" y="459" width="5" height="15" fill="#528c24"/>
<rect x="610" y="459" width="3" height="15" fill="#5c9230"/>
<rect x="619" y="438" width="1" height="24" fill="#528c24"/>
<rect x="617" y="438" width="5" height="22" fill="#528c24"/>
<rect x="618" y="438" width="3" height="22" fill="#5c9230"/>
<rect x="627" y="432" width="1" height="15" fill="#528c24"/>
<rect x="625" y="435" width="5" height="4" fill="#528c24"/>
<rect x="626" y="435" width="3" height="4" fill="#5c9230"/>
<rect x="635" y="412" width="1" height="30" fill="#528c24"/>
<rect x="633" y="413" width="5" height="22" fill="#528c24"/>
<rect x="634" y="413" width="3" height="22" fill="#5c9230"/>
<rect x="643" y="411" width="1" height="26" fill="#ed3d15"/>
<rect x="641" y="413" width="5" height="21" fill="#ed3d15"/>
<rect x="642" y="413" width="3" height="21" fill="#f04a25"/>
<rect x="651" y="435" width="1" height="17" fill="#ed3d15"/>
<rect x="649" y="435" width="5" height="9" fill="#ed3d15"/>
<rect x="650" y="435" width="3" height="9" fill="#f04a25"/>
<rect x="659" y="430" width="1" height="15" fill="#528c24"/>
<rect x="657" y="434" width="5" height="9" fill="#528c24"/>
<rect x="658" y="434" width="3" height="9" fill="#5c9230"/>
<rect x="667" y="430" width="1" height="8" fill="#ed3d15"/>
<rect x="665" y="433" width="5" height="1" fill="#ed3d15"/>
<rect x="675" y="423" width="1" height="12" fill="#528c24"/>
<rect x="673" y="426" width="5" height="8" fill="#528c24"/>
<rect x="674" y="426" width="3" height="8" fill="#5c9230"/>
<rect x="683" y="376" width="1" height="62" fill="#528c24"/>
<rect x="681" y="394" width="5" height="34" fill="#528c24"/>
<rect x="682" y="394" width="3" height="34" fill="#5c9230"/>
<rect x="691" y="382" width="1" height="17" fill="#528c24"/>
<rect x="689" y="384" width="5" height="11" fill="#528c24"/>
<rect x="690" y="384" width="3" height="11" fill="#5c9230"/>
<rect x="699" y="383" width="1" height="12" fill="#ed3d15"/>
<rect x="697" y="383" width="5" height="8" fill="#ed3d15"/>
<rect x="698" y="383" width="3" height="8" fill="#f04a25"/>
<rect x="707" y="390" width="1" height="21" fill="#ed3d15"/>
<rect x="705" y="390" width="5" height="9" fill="#ed3d15"/>
<rect x="706" y="390" width="3" height="9" fill="#f04a25"/>
<rect x="715" y="395" width="1" height="14" fill="#ed3d15"/>
<rect x="713" y="398" width="5" height="9" fill="#ed3d15"/>
<rect x="714" y="398" width="3" height="9" fill="#f04a25"/>
<rect x="723" y="376" width="1" height="33" fill="#528c24"/>
<rect x="721" y="387" width="5" height="20" fill="#528c24"/>
<rect x="722" y="387" width="3" height="20" fill="#5c9230"/>
<rect x="731" y="371" width="1" height="29" fill="#528c24"/>
<rect x="729" y="385" width="5" height="2" fill="#528c24"/>
<rect x="739" y="382" width="1" height="38" fill="#ed3d15"/>
<rect x="737" y="385" width="5" height="6" fill="#ed3d15"/>
<rect x="738" y="385" width="3" height="6" fill="#f04a25"/>
<rect x="747" y="371" width="1" height="34" fill="#ed3d15"/>
<rect x="745" y="391" width="5" height="2" fill="#ed3d15"/>
<rect x="755" y="384" width="1" height="30" fill="#ed3d15"/>
<rect x="753" y="392" width="5" height="13" fill="#ed3d15"/>
<rect x="754" y="392" width="3" height="13" fill="#f04a25"/>
<rect x="763" y="382" width="1" height="30" fill="#528c24"/>
<rect x="761" y="384" width="5" height="21" fill="#528c24"/>
<rect x="762" y="384" width="3" height="21" fill="#5c9230"/>
<rect x="771" y="294" width="1" height="92" fill="#528c24"/>
<rect x="769" y="344" width="5" height="42" fill="#528c24"/>
<rect x="770" y="344" width="3" height="42" fill="#5c9230"/>
<rect x="779" y="278" width="1" height="74" fill="#528c24"/>
<rect x="777" y="290" width="5" height="55" fill="#528c24"/>
<rect x="778" y="290" width="3" height="55" fill="#5c9230"/>
<rect x="787" y="289" width="1" height="98" fill="#ed3d15"/>
<rect x="785" y="290" width="5" height="94" fill="#ed3d15"/>
<rect x="786" y="290" width="3" height="94" fill="#f04a25"/>
<rect x="795" y="346" width="1" height="49" fill="#528c24"/>
<rect x="793" y="374" width="5" height="10" fill="#528c24"/>
<rect x="794" y="374" width="3" height="10" fill="#5c9230"/>
<rect x="803" y="333" width="1" height="50" fill="#528c24"/>
<rect x="801" y="358" width="5" height="16" fill="#528c24"/>
<rect x="802" y="358" width="3" height="16" fill="#5c9230"/>
<rect x="811" y="318" width="1" height="45" fill="#528c24"/>
<rect x="809" y="341" width="5" height="18" fill="#528c24"/>
<rect x="810" y="341" width="3" height="18" fill="#5c9230"/>
<rect x="819" y="309" width="1" height="43" fill="#528c24"/>
<rect x="817" y="315" width="5" height="27" fill="#528c24"/>
<rect x="818" y="315" width="3" height="27" fill="#5c9230"/>
<rect x="827" y="300" width="1" height="30" fill="#ed3d15"/>
<rect x="825" y="315" width="5" height="11" fill="#ed3d15"/>
<rect x="826" y="315" width="3" height="11" fill="#f04a25"/>
<rect x="835" y="288" width="1" height="42" fill="#528c24"/>
<rect x="833" y="300" width="5" height="26" fill="#528c24"/>
<rect x="834" y="300" width="3" height="26" fill="#5c9230"/>
<rect x="843" y="296" width="1" height="41" fill="#ed3d15"/>
<rect x="841" y="299" width="5" height="31" fill="#ed3d15"/>
<rect x="842" y="299" width="3" height="31" fill="#f04a25"/>
<rect x="851" y="303" width="1" height="25" fill="#528c24"/>
<rect x="849" y="317" width="5" height="11" fill="#528c24"/>
<rect x="850" y="317" width="3" height="11" fill="#5c9230"/>
<rect x="859" y="294" width="1" height="23" fill="#528c24"/>
<rect x="857" y="303" width="5" height="10" fill="#528c24"/>
<rect x="858" y="303" width="3" height="10" fill="#5c9230"/>
<rect x="867" y="267" width="1" height="43" fill="#528c24"/>
<rect x="865" y="271" width="5" height="33" fill="#528c24"/>
<rect x="866" y="271" width="3" height="33" fill="#5c9230"/>
<rect x="875" y="267" width="1" height="17" fill="#ed3d15"/>
<rect x="873" y="271" width="5" height="2" fill="#ed3d15"/>
<rect x="883" y="258" width="1" height="28" fill="#528c24"/>
<rect x="881" y="258" width="5" height="15" fill="#528c24"/>
<rect x="882" y="258" width="3" height="15" fill="#5c9230"/>
<rect x="891" y="248" width="1" height="15" fill="#528c24"/>
<rect x="889" y="256" width="5" height="3" fill="#528c24"/>
<rect x="890" y="256" width="3" height="3" fill="#5c9230"/>
<rect x="899" y="246" width="1" height="17" fill="#528c24"/>
<rect x="897" y="252" width="5" height="5" fill="#528c24"/>
<rect x="898" y="252" width="3" height="5" fill="#5c9230"/>
<rect x="907" y="251" width="1" height="20" fill="#ed3d15"/>
<rect x="905" y="252" width="5" height="16" fill="#ed3d15"/>
<rect x="906" y="252" width="3" height="16" fill="#f04a25"/>
<rect x="915" y="259" width="1" height="28" fill="#ed3d15"/>
<rect x="913" y="267" width="5" height="7" fill="#ed3d15"/>
<rect x="914" y="267" width="3" height="7" fill="#f04a25"/>
<rect x="923" y="272" width="1" height="52" fill="#ed3d15"/>
<rect x="921" y="274" width="5" height="34" fill="#ed3d15"/>
<rect x="922" y="274" width="3" height="34" fill="#f04a25"/>
<rect x="931" y="292" width="1" height="48" fill="#528c24"/>
<rect x="929" y="295" width="5" height="12" fill="#528c24"/>
<rect x="930" y="295" width="3" height="12" fill="#5c9230"/>
<rect x="939" y="294" width="1" height="53" fill="#ed3d15"/>
<rect x="937" y="295" width="5" height="40" fill="#ed3d15"/>
<rect x="938" y="295" width="3" height="40" fill="#f04a25"/>
<rect x="947" y="323" width="1" height="42" fill="#528c24"/>
<rect x="945" y="326" width="5" height="9" fill="#528c24"/>
<rect x="946" y="326" width="3" height="9" fill="#5c9230"/>
<rect x="955" y="273" width="1" height="70" fill="#528c24"/>
<rect x="953" y="282" width="5" height="46" fill="#528c24"/>
<rect x="954" y="282" width="3" height="46" fill="#5c9230"/>
<rect x="963" y="247" width="1" height="40" fill="#528c24"/>
<rect x="961" y="281" width="5" height="2" fill="#528c24"/>
<rect x="971" y="262" width="1" height="53" fill="#ed3d15"/>
<rect x="969" y="281" width="5" height="23" fill="#ed3d15"/>
<rect x="970" y="281" width="3" height="23" fill="#f04a25"/>
<rect x="979" y="293" width="1" height="39" fill="#ed3d15"/>
<rect x="977" y="303" width="5" height="23" fill="#ed3d15"/>
<rect x="978" y="303" width="3" height="23" fill="#f04a25"/>
<rect x="987" y="259" width="1" height="74" fill="#528c24"/>
<rect x="985" y="267" width="5" height="59" fill="#528c24"/>
<rect x="986" y="267" width="3" height="59" fill="#5c9230"/>
<rect x="995" y="210" width="1" height="65" fill="#528c24"/>
<rect x="993" y="213" width="5" height="56" fill="#528c24"/>
<rect x="994" y="213" width="3" height="56" fill="#5c9230"/>
<rect x="1003" y="175" width="1" height="51" fill="#528c24"/>
<rect x="1001" y="205" width="5" height="9" fill="#528c24"/>
<rect x="1002" y="205" width="3" height="9" fill="#5c9230"/>
<rect x="1011" y="149" width="1" height="58" fill="#528c24"/>
<rect x="1009" y="179" width="5" height="27" fill="#528c24"/>
<rect x="1010" y="179" width="3" height="27" fill="#5c9230"/>
<rect x="1019" y="172" width="1" height="35" fill="#ed3d15"/>
<rect x="1017" y="179" width="5" height="5" fill="#ed3d15"/>
<rect x="1018" y="179" width="3" height="5" fill="#f04a25"/>
<rect x="1027" y="112" width="1" height="83" fill="#528c24"/>
<rect x="1025" y="131" width="5" height="53" fill="#528c24"/>
<rect x="1026" y="131" width="3" height="53" fill="#5c9230"/>
<rect x="1035" y="127" width="1" height="72" fill="#ed3d15"/>
<rect x="1033" y="161" width="5" height="18" fill="#ed3d15"/>
<rect x="1034" y="161" width="3" height="18" fill="#f04a25"/>
<rect x="1043" y="147" width="1" height="41" fill="#528c24"/>
<rect x="1041" y="177" width="5" height="3" fill="#528c24"/>
<rect x="1042" y="177" width="3" height="3" fill="#5c9230"/>
<rect x="1051" y="130" width="1" height="61" fill="#528c24"/>
<rect x="1049" y="160" width="5" height="18" fill="#528c24"/>
<rect x="1050" y="160" width="3" height="18" fill="#5c9230"/>
<rect x="1059" y="131" width="1" height="34" fill="#528c24"/>
<rect x="1057" y="154" width="5" height="6" fill="#528c24"/>
<rect x="1058" y="154" width="3" height="6" fill="#5c9230"/>
<rect x="1067" y="135" width="1" height="40" fill="#ed3d15"/>
<rect x="1065" y="155" width="5" height="6" fill="#ed3d15"/>
<rect x="1066" y="155" width="3" height="6" fill="#f04a25"/>
<rect x="1075" y="158" width="1" height="24" fill="#ed3d15"/>
<rect x="1073" y="160" width="5" height="3" fill="#ed3d15"/>
<rect x="1074" y="160" width="3" height="3" fill="#f04a25"/>
<rect x="1083" y="143" width="1" height="29" fill="#528c24"/>
<rect x="1081" y="145" width="5" height="17" fill="#528c24"/>
<rect x="1082" y="145" width="3" height="17" fill="#5c9230"/>
<rect x="1091" y="143" width="1" height="26" fill="#ed3d15"/>
<rect x="1089" y="146" width="5" height="20" fill="#ed3d15"/>
<rect x="1090" y="146" width="3" height="20" fill="#f04a25"/>
<rect x="1099" y="141" width="1" height="29" fill="#528c24"/>
<rect x="1097" y="156" width="5" height="9" fill="#528c24"/>
<rect x="1098" y="156" width="3" height="9" fill="#5c9230"/>
</g>
<g shape-rendering="crispEdges">
<line x1="4" y1="718.5" x2="1154" y2="718.5" stroke="#c0c0c0" stroke-width="1" stroke-dasharray="3 3"/>
<line x1="4" y1="752.5" x2="1154" y2="752.5" stroke="#c0c0c0" stroke-width="1" stroke-dasharray="3 3"/>
</g>
<polyline points="3.50,719.70 11.50,718.60 19.50,720.30 27.50,735.30 35.50,728.70 43.50,731.20 51.50,732.50 59.50,730.00 67.50,738.30 75.50,746.70 83.50,731.20 91.50,732.50 99.50,734.50 107.50,724.20 115.50,728.70 123.50,727.50 131.50,728.30 139.50,729.70 147.50,733.00 155.50,741.70 163.50,740.30 171.50,740.30 179.50,728.30 187.50,730.30 195.50,728.30 203.50,734.50 211.50,734.50 219.50,731.50 227.50,729.60 235.50,728.30 243.50,727.20 251.50,727.20 259.50,734.20 267.50,729.50 275.50,730.50 283.50,734.40 291.50,733.30 299.50,733.30 307.50,732.20 315.50,733.40 323.50,738.30 331.50,738.30 339.50,737.20 347.50,737.20 355.50,740.10 363.50,742.50 371.50,739.20 379.50,734.00 387.50,727.20 395.50,730.50 403.50,727.50 411.50,721.70 419.50,726.20 427.50,726.30 435.50,729.70 443.50,726.30 451.50,732.20 459.50,728.30 467.50,727.20 475.50,726.20 483.50,724.50 491.50,724.50 499.50,725.30 507.50,725.30 515.50,725.30 523.50,723.30 531.50,721.30 539.50,722.50 547.50,736.20 555.50,744.50 563.50,732.50 571.50,731.50 579.50,733.30 587.50,732.20 595.50,738.30 603.50,735.50 611.50,732.20 619.50,728.30 627.50,728.30 635.50,724.50 643.50,729.20 651.50,731.30 659.50,730.30 667.50,729.50 675.50,728.30 683.50,722.50 691.50,721.30 699.50,722.50 707.50,725.50 715.50,727.50 723.50,724.50 731.50,723.30 739.50,725.30 747.50,726.30 755.50,730.30 763.50,725.80 771.50,718.30 779.50,712.50 787.50,732.50 795.50,731.30 803.50,729.50 811.50,726.30 819.50,723.30 827.50,725.50 835.50,722.20 843.50,728.30 851.50,726.30 859.50,725.30 867.50,721.30 875.50,721.30 883.50,720.50 891.50,720.50 899.50,719.20 907.50,723.30 915.50,724.50 923.50,732.50 931.50,730.30 939.50,737.50 947.50,736.30 955.50,729.50 963.50,728.30 971.50,732.50 979.50,737.20 987.50,728.30 995.50,722.50 1003.50,721.30 1011.50,719.50 1019.50,720.30 1027.50,715.50 1035.50,724.50 1043.50,723.30 1051.50,722.50 1059.50,721.30 1067.50,722.50 1075.50,723.30 1083.50,721.30 1091.50,725.30 1099.50,724.50" fill="none" stroke="#ffa07a" stroke-width="1" shape-rendering="crispEdges" />
<g shape-rendering="crispEdges" fill="#191970">
<rect x="2" y="2" width="1153" height="1"/>
<rect x="2" y="2" width="1" height="687"/>
<rect x="2" y="688" width="1153" height="1"/>
<rect x="1154" y="2" width="1" height="687"/>
<rect x="2" y="690" width="1153" height="1"/>
<rect x="2" y="690" width="1" height="90"/>
<rect x="2" y="779" width="1153" height="1"/>
<rect x="1154" y="690" width="1" height="90"/>
<rect x="1155" y="25" width="2" height="1"/>
<rect x="1155" y="58" width="2" height="1"/>
<rect x="1155" y="91" width="2" height="1"/>
<rect x="1155" y="124" width="2" height="1"/>
<rect x="1155" y="157" width="2" height="1"/>
<rect x="1155" y="190" width="2" height="1"/>
<rect x="1155" y="223" width="2" height="1"/>
<rect x="1155" y="256" width="2" height="1"/>
<rect x="1155" y="289" width="2" height="1"/>
<rect x="1155" y="322" width="2" height="1"/>
<rect x="1155" y="355" width="2" height="1"/>
<rect x="1155" y="388" width="2" height="1"/>
<rect x="1155" y="421" width="2" height="1"/>
<rect x="1155" y="454" width="2" height="1"/>
<rect x="1155" y="487" width="2" height="1"/>
<rect x="1155" y="520" width="2" height="1"/>
<rect x="1155" y="553" width="2" height="1"/>
<rect x="1155" y="586" width="2" height="1"/>
<rect x="1155" y="619" width="2" height="1"/>
<rect x="1155" y="652" width="2" height="1"/>
<rect x="1155" y="685" width="2" height="1"/>
<rect x="1155" y="692" width="1" height="1"/>
<rect x="1155" y="778" width="1" height="1"/>
<rect x="3" y="780" width="1" height="3"/>
<rect x="67" y="780" width="1" height="3"/>
<rect x="131" y="780" width="1" height="3"/>
<rect x="195" y="780" width="1" height="3"/>
<rect x="259" y="780" width="1" height="3"/>
<rect x="323" y="780" width="1" height="3"/>
<rect x="387" y="780" width="1" height="3"/>
<rect x="451" y="780" width="1" height="3"/>
<rect x="515" y="780" width="1" height="3"/>
<rect x="579" y="780" width="1" height="3"/>
<rect x="643" y="780" width="1" height="3"/>
<rect x="707" y="780" width="1" height="3"/>
<rect x="771" y="780" width="1" height="3"/>
<rect x="835" y="780" width="1" height="3"/>
<rect x="899" y="780" width="1" height="3"/>
<rect x="963" y="780" width="1" height="3"/>
<rect x="1027" y="780" width="1" height="3"/>
<rect x="1091" y="780" width="1" height="3"/>
</g>
<g font-family="Liberation Sans, sans-serif" font-size="10" letter-spacing="-0.37" text-rendering="geometricPrecision" fill="#191970" stroke="#191970" stroke-width="0.1">
<text x="1160" y="29">0.91200</text>
<text x="1160" y="62">0.90930</text>
<text x="1160" y="95">0.90660</text>
<text x="1160" y="128">0.90390</text>
<text x="1160" y="194">0.89850</text>
<text x="1160" y="260">0.89305</text>
<text x="1160" y="293">0.89035</text>
<text x="1160" y="326">0.88765</text>
<text x="1160" y="359">0.88495</text>
<text x="1160" y="392">0.88225</text>
<text x="1160" y="425">0.87955</text>
<text x="1160" y="458">0.87685</text>
<text x="1160" y="491">0.87415</text>
<text x="1160" y="524">0.87140</text>
<text x="1160" y="557">0.86870</text>
<text x="1160" y="590">0.86600</text>
<text x="1160" y="623">0.86330</text>
<text x="1160" y="656">0.86060</text>
<text x="1160" y="689">0.85790</text>
<text x="2" y="792">6 Mar 2020</text>
<text x="66" y="792">6 Mar 22:00</text>
<text x="130" y="792">9 Mar 06:00</text>
<text x="194" y="792">9 Mar 14:00</text>
<text x="258" y="792">9 Mar 22:00</text>
<text x="322" y="792">10 Mar 06:00</text>
<text x="386" y="792">10 Mar 14:00</text>
<text x="450" y="792">10 Mar 22:00</text>
<text x="514" y="792">11 Mar 06:00</text>
<text x="578" y="792">11 Mar 14:00</text>
<text x="642" y="792">11 Mar 22:00</text>
<text x="706" y="792">12 Mar 06:00</text>
<text x="770" y="792">12 Mar 14:00</text>
<text x="834" y="792">12 Mar 22:00</text>
<text x="898" y="792">13 Mar 06:00</text>
<text x="962" y="792">13 Mar 14:00</text>
<text x="1026" y="792">13 Mar 22:00</text>
<text x="1090" y="792">16 Mar 07:00</text>
<text x="18" y="14">EURGBP,H1  0.90063 0.90250 0.90019 0.90131</text>
<text x="7" y="703">RSI(14) 62.6974</text>
<text x="1158" y="701" letter-spacing="-0.6">100</text>
<text x="1157" y="722" letter-spacing="-0.9">70</text>
<text x="1157" y="756" letter-spacing="-0.9">30</text>
<text x="1158" y="776">0</text>
</g>
<path d="M6,9 L13,9 L9.5,13 Z" fill="#191970"/>
<g shape-rendering="crispEdges">
<rect x="1156" y="42" width="41" height="11" fill="#228b22"/>
<rect x="1156" y="107" width="41" height="11" fill="#228b22"/>
<rect x="1156" y="151" width="41" height="11" fill="#191970"/>
<rect x="1156" y="174" width="41" height="11" fill="#2f4f4f"/>
<rect x="1156" y="220" width="41" height="11" fill="#2f4f4f"/>
</g>
<g font-family="Liberation Sans, sans-serif" font-size="10" letter-spacing="-0.37" text-rendering="geometricPrecision" fill="#fff" stroke="#fff" stroke-width="0.1">
<text x="1160" y="51">0.91015</text>
<text x="1160" y="116">0.90486</text>
<text x="1160" y="160">0.90131</text>
<text x="1160" y="183">0.89930</text>
<text x="1160" y="229">0.89565</text>
</g>
</svg>
</body></html>
